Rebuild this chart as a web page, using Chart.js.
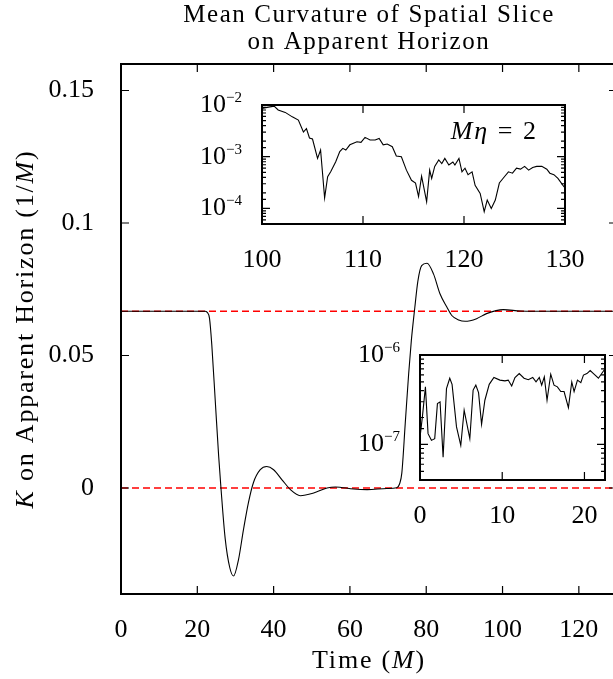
<!DOCTYPE html>
<html>
<head>
<meta charset="utf-8">
<script src="https://cdn.jsdelivr.net/npm/chart.js@4.4.1/dist/chart.umd.min.js"></script>
<style>
  html, body { margin: 0; padding: 0; background: #fff; overflow: hidden; }
  body { width: 613px; height: 679px; position: relative; }
  .box { position: absolute; }
  #main { left: 0; top: 0; width: 630px; height: 679px; }
  #in1 { left: 180px; top: 90px; width: 420px; height: 180px; }
  #in2 { left: 340px; top: 340px; width: 290px; height: 190px; }
</style>
</head>
<body>
<div class="box" id="main"><canvas id="mainChart"></canvas></div>
<div class="box" id="in1"><canvas id="inset1"></canvas></div>
<div class="box" id="in2"><canvas id="inset2"></canvas></div>
<script>
const SERIF = '"Liberation Serif", "Times New Roman", serif';

// Main plot: K on the apparent horizon against time (M).
const tRange = [0, 130];
const mainT = [0, 10, 20, 22, 22.6, 23.2, 23.8, 24.7, 25.6, 26.2, 27.3, 28.5, 29.5, 30.8, 32.1,
  33.4, 34.7, 36.5, 38.2, 40, 42.2, 44.4, 47, 50.5, 54, 56.2, 61, 64.5, 69.7, 72.3, 73, 73.6,
  74.5, 75.4, 76.1, 77, 77.8, 78.8, 80.2, 81.9, 83.6, 85.4, 86.7, 88.5, 90.2, 93.2, 95.8,
  100.2, 104.6, 108, 115, 130];
const mainK = [0.0667, 0.0667, 0.0667, 0.0667, 0.0663, 0.064, 0.054, 0.033, 0.012, 0, -0.019,
  -0.03, -0.0332, -0.027, -0.0157, -0.0055, 0.002, 0.0069, 0.0081, 0.0069, 0.0031, -0.0006,
  -0.0029, -0.0019, 0, 0.0004, -0.0004, -0.0006, -0.0002, 0.0001, 0.0015, 0.0056, 0.0244,
  0.0432, 0.0557, 0.068, 0.078, 0.0839, 0.0848, 0.0808, 0.0733, 0.0683, 0.0651, 0.0634,
  0.0629, 0.0639, 0.0658, 0.0673, 0.0668, 0.0667, 0.0667, 0.0667];
const horizonK = 0.0667;
const zeroK = 0;
const mainXTicks = [0, 20, 40, 60, 80, 100, 120];
const mainYTicks = [0, 0.05, 0.1, 0.15];
const mainYLabels = ['0', '0.05', '0.1', '0.15'];
const titleLines = ['Mean Curvature of Spatial Slice', 'on Apparent Horizon'];

// Upper inset, t = 100..130, log scale.
const in1T = [100, 100.5, 101.2, 101.6, 102.3, 103, 103.6, 104.1, 104.4, 104.7, 105, 105.5,
  105.8, 106.2, 106.5, 106.8, 107.3, 107.7, 108, 108.3, 108.7, 109.4, 109.8, 110.2, 110.7,
  111.2, 111.6, 112, 112.4, 112.9, 113.3, 113.8, 114.3, 114.8, 115.2, 115.5, 115.8, 116.3,
  116.6, 116.8, 117.1, 117.5, 117.8, 118.1, 118.5, 118.9, 119.1, 119.5, 119.8, 120.1, 120.4,
  120.8, 121.1, 121.6, 122, 122.3, 122.7, 123.1, 123.5, 124, 124.4, 124.8, 125.2, 125.6, 126,
  126.4, 126.8, 127.2, 127.7, 128.2, 128.5, 128.9, 129.3, 129.8, 130];
const in1V = [8.6e-3, 9.0e-3, 9.5e-3, 8.0e-3, 7.2e-3, 5.9e-3, 5.1e-3, 3.0e-3, 3.5e-3, 2.3e-3,
  2.2e-3, 9.3e-4, 1.35e-3, 1.6e-4, 4.1e-4, 5.1e-4, 8.0e-4, 1.26e-3, 1.45e-3, 1.35e-3, 1.7e-3,
  1.95e-3, 1.9e-3, 2.37e-3, 2.1e-3, 2.1e-3, 2.26e-3, 1.7e-3, 1.76e-3, 1.56e-3, 1.03e-3, 1.0e-3,
  5.5e-4, 3.5e-4, 3.1e-4, 1.7e-4, 4.2e-4, 1.35e-4, 5.5e-4, 3.8e-4, 6.5e-4, 8.7e-4, 7.4e-4,
  9.3e-4, 6.9e-4, 7.9e-4, 6.9e-4, 9.3e-4, 5.1e-4, 6.0e-4, 4.5e-4, 5.1e-4, 2.8e-4, 1.95e-4,
  8.7e-5, 1.45e-4, 1.0e-4, 1.45e-4, 3.1e-4, 4.1e-4, 5.1e-4, 4.8e-4, 6.0e-4, 5.75e-4, 6.5e-4,
  5.5e-4, 6.2e-4, 6.5e-4, 6.5e-4, 5.75e-4, 4.8e-4, 4.5e-4, 3.8e-4, 2.8e-4, 2.5e-4];
const in1XTicks = [100, 110, 120, 130];
const in1YExps = [-2, -3, -4];
const in1Note = { t: 123, v: 2.2e-3 };

// Lower inset, t = 0..22.5, log scale.
const in2T = [0, 0.29, 0.66, 0.98, 1.39, 1.79, 2.12, 2.44, 2.81, 3.22, 3.62, 3.9, 4.44, 4.96,
  5.37, 6.06, 6.46, 6.79, 7.12, 7.49, 7.89, 8.42, 8.99, 9.72, 10.33, 10.73, 11.15, 11.55,
  12.07, 12.65, 13.17, 13.71, 14.11, 14.51, 14.8, 15.12, 15.45, 15.9, 16.3, 16.71, 17.12,
  17.52, 18.05, 18.46, 18.74, 19.15, 19.56, 19.88, 20.3, 20.7, 21.1, 21.7, 22.4];
const in2V = [1.2e-7, 2.03e-7, 4.4e-7, 1.32e-7, 1.11e-7, 1.16e-7, 2.86e-7, 2.99e-7, 7.2e-8,
  4.2e-7, 5.5e-7, 4.7e-7, 1.57e-7, 9.75e-8, 2.41e-7, 1.16e-7, 4.05e-7, 4.6e-7, 3.8e-7, 1.68e-7,
  3.12e-7, 4.7e-7, 5.6e-7, 5.24e-7, 5.14e-7, 5.24e-7, 4.5e-7, 5.6e-7, 6.2e-7, 5.5e-7, 5.3e-7,
  5.6e-7, 5.0e-7, 5.6e-7, 4.6e-7, 5.7e-7, 3.12e-7, 6.1e-7, 4.6e-7, 4.4e-7, 3.9e-7, 3.9e-7,
  2.58e-7, 5.0e-7, 3.9e-7, 5.24e-7, 4.9e-7, 5.96e-7, 6.2e-7, 6.7e-7, 6.2e-7, 5.5e-7, 6.8e-7];
const in2XTicks = [0, 10, 20];
const in2YExps = [-6, -7];

Chart.defaults.font.family = SERIF;
Chart.defaults.color = '#000';

const pts = (xs, ys) => xs.map((x, i) => ({ x, y: ys[i] }));
const fixTicks = list => s => { s.ticks = list.map(v => ({ value: v })); };
const midX = c => (c.chartArea.left + c.chartArea.right) / 2;
const midY = c => (c.chartArea.top + c.chartArea.bottom) / 2;

function fontOf(r) {
  return (r.italic ? 'italic ' : '') + (r.size || 26) + 'px ' + SERIF;
}

// Draws a row of differently styled text runs (italic symbols, superscripts).
function drawRuns(ctx, runs, x, y, align, spacing) {
  ctx.letterSpacing = (spacing || 0) + 'px';
  let w = 0;
  for (const r of runs) { ctx.font = fontOf(r); w += ctx.measureText(r.text).width; }
  let cx = align === 'center' ? x - w / 2 : align === 'right' ? x - w : x;
  for (const r of runs) {
    ctx.font = fontOf(r);
    ctx.fillText(r.text, cx, y - (r.rise || 0));
    cx += ctx.measureText(r.text).width;
  }
}

function notesPlugin(items) {
  return {
    id: 'notes',
    afterDraw(chart) {
      const ctx = chart.ctx;
      ctx.save();
      ctx.fillStyle = '#000';
      ctx.textAlign = 'left';
      ctx.textBaseline = 'alphabetic';
      for (const it of items) {
        const [x, y] = it.at(chart);
        ctx.save();
        ctx.translate(x, y);
        if (it.rotate) ctx.rotate(-Math.PI / 2);
        drawRuns(ctx, it.runs, 0, 0, it.align || 'center', it.spacing);
        ctx.restore();
      }
      ctx.restore();
    }
  };
}

// gnuplot style box: border plus inward ticks on all four sides.
function framePlugin(major, minor) {
  const isDecade = v => Math.abs(Math.log10(v) - Math.round(Math.log10(v))) < 1e-6;
  return {
    id: 'frame',
    afterDatasetsDraw(chart) {
      const { ctx, chartArea: a, scales: { x, y } } = chart;
      ctx.save();
      ctx.strokeStyle = '#000';
      ctx.lineWidth = 1.2;
      ctx.beginPath();
      for (const t of x.ticks) {
        const p = x.getPixelForValue(t.value);
        ctx.moveTo(p, a.bottom); ctx.lineTo(p, a.bottom - major);
        ctx.moveTo(p, a.top); ctx.lineTo(p, a.top + major);
      }
      for (const t of y.ticks) {
        const p = y.getPixelForValue(t.value);
        const len = y.type === 'logarithmic' && !isDecade(t.value) ? minor : major;
        ctx.moveTo(a.left, p); ctx.lineTo(a.left + len, p);
        ctx.moveTo(a.right, p); ctx.lineTo(a.right - len, p);
      }
      ctx.stroke();
      ctx.lineWidth = 2;
      ctx.strokeRect(a.left, a.top, a.right - a.left, a.bottom - a.top);
      ctx.restore();
    }
  };
}

function decadeLabels(exps) {
  return exps.map(e => ({
    runs: [{ text: '10' }, { text: '\u2212' + Math.abs(e), size: 15, rise: 10 }],
    at: c => [c.chartArea.left - 20, c.scales.y.getPixelForValue(Math.pow(10, e)) + 7],
    align: 'right'
  }));
}

function baseOptions(padding, yWidth, xHeight) {
  return {
    animation: false,
    responsive: true,
    maintainAspectRatio: false,
    devicePixelRatio: 1,
    layout: { padding, autoPadding: false },
    plugins: { legend: { display: false }, tooltip: { enabled: false } },
    elements: { point: { radius: 0 }, line: { borderColor: '#000', borderWidth: 1.1 } },
    scales: {
      x: {
        type: 'linear',
        afterFit: s => { s.height = xHeight; },
        grid: { display: false }, border: { display: false },
        ticks: { font: { size: 26 }, color: '#000', padding: 13, maxRotation: 0, autoSkip: false }
      },
      y: {
        afterFit: s => { s.width = yWidth; },
        grid: { display: false }, border: { display: false },
        ticks: { font: { size: 26 }, color: '#000', padding: 19, autoSkip: false }
      }
    }
  };
}

// main chart
const mainOpts = baseOptions({ left: 0, top: 64, right: 13, bottom: 0 }, 121, 85);
Object.assign(mainOpts.scales.x, { min: tRange[0], max: tRange[1], afterBuildTicks: fixTicks(mainXTicks) });
Object.assign(mainOpts.scales.y, { type: 'linear', min: -0.04, max: 0.16, afterBuildTicks: fixTicks(mainYTicks) });
mainOpts.scales.y.ticks.callback = (v, i) => mainYLabels[i];

const redDash = { borderColor: '#ff0000', borderWidth: 1.6, borderDash: [7, 4] };

new Chart(document.getElementById('mainChart'), {
  type: 'line',
  data: {
    datasets: [
      { data: pts(mainT, mainK), cubicInterpolationMode: 'monotone' },
      { data: pts(tRange, [horizonK, horizonK]), ...redDash },
      { data: pts(tRange, [zeroK, zeroK]), ...redDash }
    ]
  },
  options: mainOpts,
  plugins: [framePlugin(8, 4), notesPlugin([
    { runs: [{ text: titleLines[0], size: 25 }], at: c => [midX(c), 22], spacing: 1.6 },
    { runs: [{ text: titleLines[1], size: 25 }], at: c => [midX(c), 49], spacing: 1.6 },
    { runs: [{ text: 'Time (' }, { text: 'M', italic: true }, { text: ')' }],
      at: c => [midX(c), c.height - 11], spacing: 1.8 },
    { runs: [{ text: 'K', italic: true }, { text: ' on Apparent Horizon (1/' }, { text: 'M', italic: true }, { text: ')' }],
      at: c => [33, midY(c)], rotate: true, spacing: 1.8 }
  ])]
});

// upper inset
const in1Opts = baseOptions({ left: 0, top: 15, right: 35, bottom: 0 }, 82, 46);
Object.assign(in1Opts.scales.x, { min: 100, max: 130, afterBuildTicks: fixTicks(in1XTicks) });
Object.assign(in1Opts.scales.y, { type: 'logarithmic', min: 5e-5, max: 1e-2 });
in1Opts.scales.y.ticks.display = false;

new Chart(document.getElementById('inset1'), {
  type: 'line',
  data: { datasets: [{ data: pts(in1T, in1V) }] },
  options: in1Opts,
  plugins: [framePlugin(8, 4), notesPlugin([
    ...decadeLabels(in1YExps),
    { runs: [{ text: 'M', italic: true }, { text: '\u03b7', italic: true }, { text: ' = 2' }],
      at: c => [c.scales.x.getPixelForValue(in1Note.t), c.scales.y.getPixelForValue(in1Note.v)], spacing: 2 }
  ])]
});

// lower inset
const in2Opts = baseOptions({ left: 0, top: 15, right: 25, bottom: 0 }, 80, 50);
Object.assign(in2Opts.scales.x, { min: 0, max: 22.5, afterBuildTicks: fixTicks(in2XTicks) });
Object.assign(in2Opts.scales.y, { type: 'logarithmic', min: 4e-8, max: 1e-6 });
in2Opts.scales.y.ticks.display = false;

new Chart(document.getElementById('inset2'), {
  type: 'line',
  data: { datasets: [{ data: pts(in2T, in2V) }] },
  options: in2Opts,
  plugins: [framePlugin(8, 4), notesPlugin(decadeLabels(in2YExps))]
});
</script>
</body>
</html>
